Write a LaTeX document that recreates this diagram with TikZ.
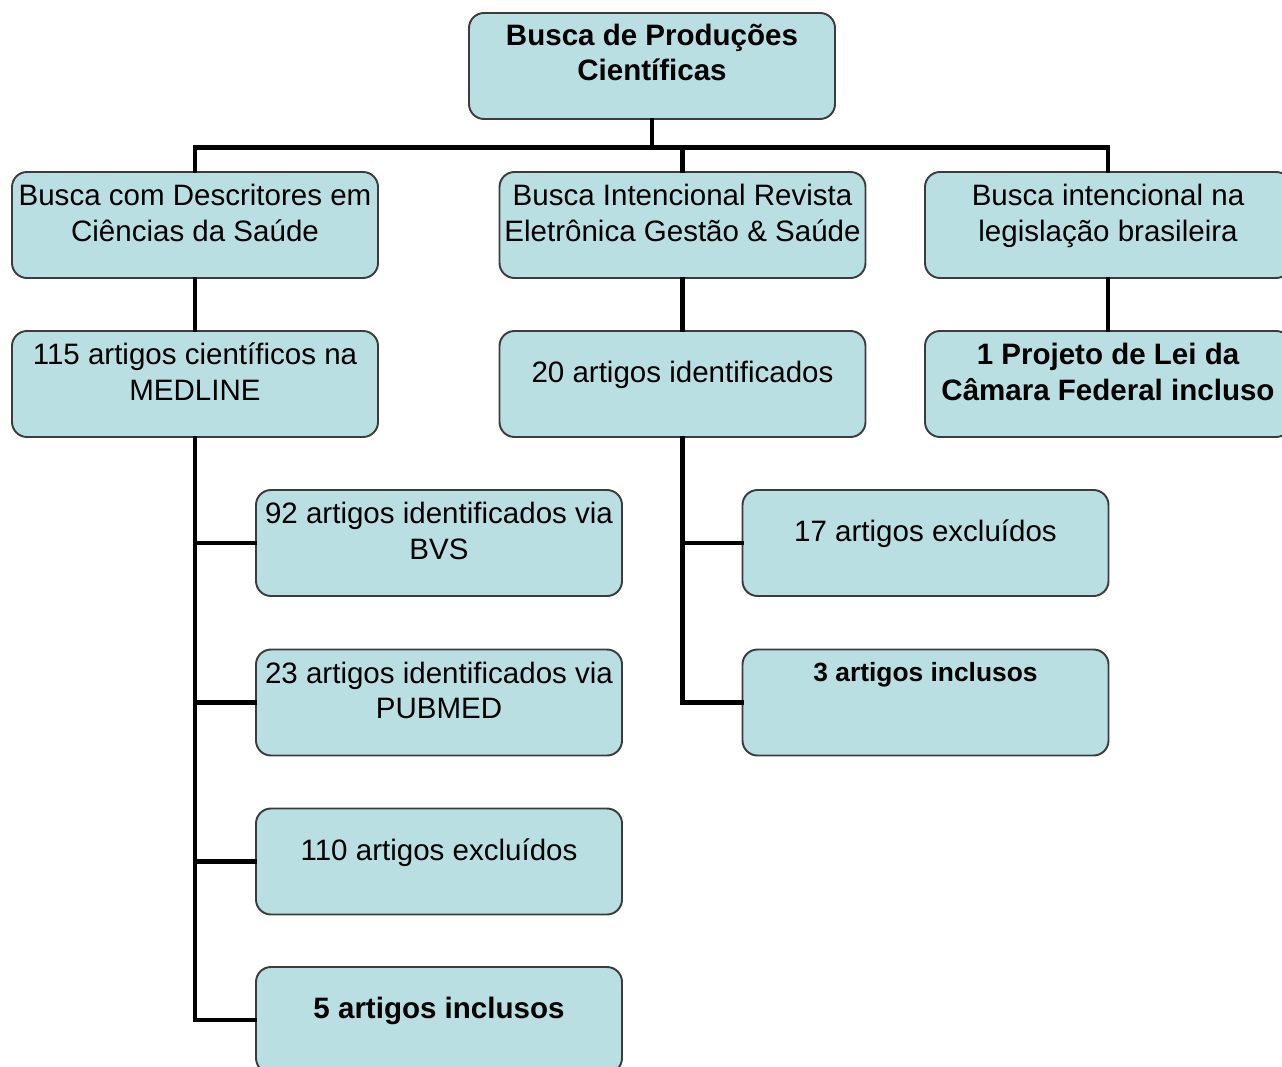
\documentclass[tikz,border=0pt]{standalone}
\usepackage{fontspec}
\setmainfont{Liberation Sans}
\usetikzlibrary{positioning}
\definecolor{bxFill}{RGB}{185,223,227}
\definecolor{bxEdge}{RGB}{60,60,60}
\newcommand{\bxfont}{\fontsize{16.8pt}{20.3pt}\selectfont}
% lines of a box, with room left under them
\newcommand{\bxtext}[2][0.34cm]{\begin{tabular}{@{}c@{}}#2\\[#1]\end{tabular}}
\begin{document}
\begin{tikzpicture}[
    box/.style={rectangle, rounded corners=0.3cm, draw=bxEdge, line width=1.1pt, fill=bxFill,
      minimum width=7.32cm, minimum height=2.12cm, inner sep=0pt, font=\bxfont},
    key/.style={box, font=\bxfont\bfseries},
    link/.style={line width=2.8pt, line cap=rect}
]
  \useasboundingbox (0,0) rectangle (25.64,-21.34);

  % top level
  \node[key] (busca) at (13.04,-1.32) {\bxtext[0.4cm]{Busca de Produções\\Científicas}};

  % three search branches
  \node[box] (desc) at (3.90,-4.50) {\bxtext{Busca com Descritores em\\Ciências da Saúde}};
  \node[box] (rev) at (13.65,-4.50) {\bxtext{Busca Intencional Revista\\Eletrônica Gestão \& Saúde}};
  \node[box] (leg) at (22.16,-4.50) {\bxtext{Busca intencional na\\legislação brasileira}};

  \node[box] (medline) at (3.90,-7.68) {\bxtext{115 artigos científicos na\\MEDLINE}};
  \node[box] (ident) at (13.65,-7.68) {\bxtext{20 artigos identificados}};
  \node[key] (proj) at (22.16,-7.68) {\bxtext{1 Projeto de Lei da\\Câmara Federal incluso}};

  % MEDLINE results
  \node[box] (bvs) at (8.78,-10.86) {\bxtext{92 artigos identificados via\\BVS}};
  \node[box] (pubmed) at (8.78,-14.05) {\bxtext{23 artigos identificados via\\PUBMED}};
  \node[box] (excl110) at (8.78,-17.23) {\bxtext{110 artigos excluídos}};
  \node[key] (incl5) at (8.78,-20.40) {\bxtext{5 artigos inclusos}};

  % journal results
  \node[box] (excl17) at (18.51,-10.86) {\bxtext{17 artigos excluídos}};
  \node[key, font=\fontsize{15pt}{18pt}\selectfont\bfseries] (incl3) at (18.51,-14.05)
    {\bxtext[1.11cm]{3 artigos inclusos}};

  \draw[link] (busca.south) -- ++(0,-0.55) -| (desc.north);
  \draw[link] (busca.south) -- ++(0,-0.55) -| (rev.north);
  \draw[link] (busca.south) -- ++(0,-0.55) -| (leg.north);
  \draw[link] (desc) -- (medline);
  \draw[link] (rev) -- (ident);
  \draw[link] (leg) -- (proj);
  \draw[link] (medline.south) |- (bvs.west);
  \draw[link] (medline.south) |- (pubmed.west);
  \draw[link] (medline.south) |- (excl110.west);
  \draw[link] (medline.south) |- (incl5.west);
  \draw[link] (ident.south) |- (excl17.west);
  \draw[link] (ident.south) |- (incl3.west);
\end{tikzpicture}
\end{document}
